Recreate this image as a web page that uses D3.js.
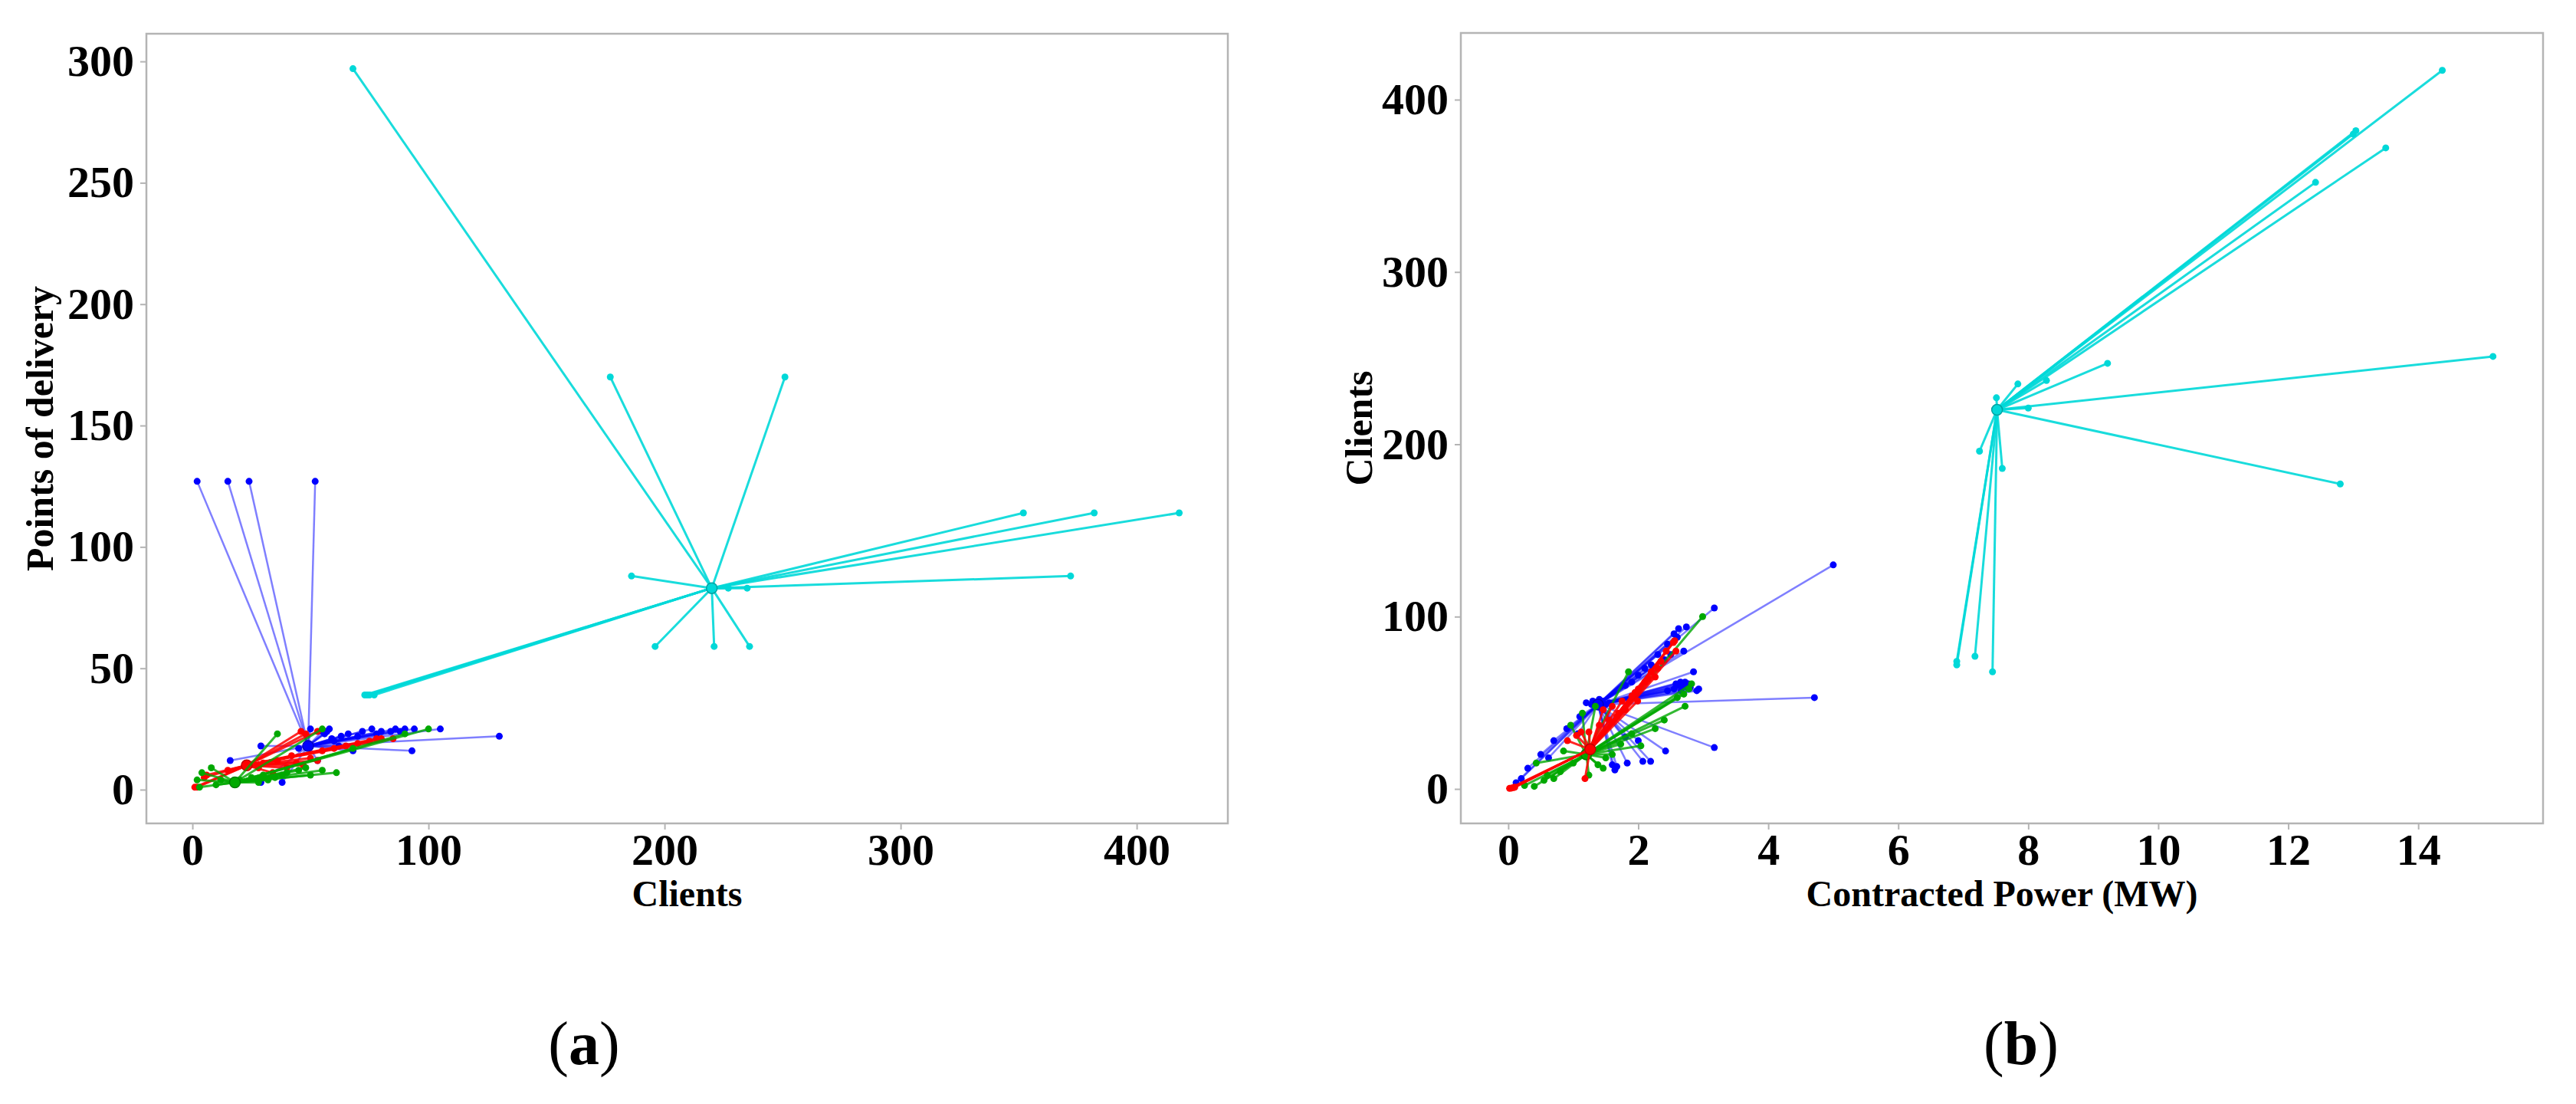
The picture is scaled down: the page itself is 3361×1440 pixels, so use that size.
<!DOCTYPE html>
<html>
<head>
<meta charset="utf-8">
<script src="https://cdn.jsdelivr.net/npm/d3@7"></script>
<style>
  body { margin: 0; background: #fff; }
  text { font-family: "Liberation Serif", "Times New Roman", serif; fill: #000; }
</style>
</head>
<body>
<div id="chart"></div>
<script>
// ---- tick labels ----
const clientsTicksA = [0, 100, 200, 300, 400];
const podTicksA = [0, 50, 100, 150, 200, 250, 300];
const powerTicksB = [0, 2, 4, 6, 8, 10, 12, 14];
const clientsTicksB = [0, 100, 200, 300, 400];

// ---- panel (a): [clients, points of delivery] ----
const centerA = { cyan: [220, 83], blue: [49, 18], red: [23, 10], green: [18, 3] };

const cyanA = [[68, 297], [177, 170], [251, 170], [186, 88], [372, 88], [352, 114], [382, 114],
  [418, 114], [196, 59], [221, 59], [236, 59], [73, 39], [74, 39], [75, 39], [77, 39], [227, 83], [235, 83]];

const blueA = [[2, 127], [15, 127], [24, 127], [52, 127], [29, 18], [16, 12], [29, 3], [38, 3],
  [93, 16], [130, 22], [105, 25], [94, 25], [90, 25], [86, 25], [76, 25], [58, 25], [56, 23],
  [63, 22], [53, 12], [60, 20], [70, 22], [80, 24], [45, 17], [50, 25], [55, 24], [66, 23],
  [57, 24], [59, 21], [72, 24], [84, 24], [88, 24], [78, 23], [62, 18], [68, 16]];

const redA = [[1, 1], [5, 5], [6, 6], [46, 24], [53, 24], [80, 21], [85, 21], [70, 19], [75, 20],
  [53, 12], [47, 10], [34, 7], [40, 9], [30, 11], [15, 8], [60, 17], [65, 18], [28, 9], [36, 12],
  [42, 14], [50, 13], [2, 1], [48, 23], [78, 21], [55, 16], [44, 11]];

const greenA = [[100, 25], [36, 23], [55, 25], [61, 7], [55, 8], [48, 9], [8, 9], [4, 7], [2, 4],
  [3, 1], [68, 17], [40, 7], [30, 6], [25, 5], [12, 4], [10, 2], [28, 3], [35, 5], [45, 8], [20, 4],
  [50, 6], [32, 4], [38, 6], [90, 23]];

// ---- panel (b): [contracted power MW, clients] ----
const centerB = { cyan: [7.52, 220], blue: [1.38, 49], red: [1.26, 23], green: [1.2, 20] };

const cyanB = [[14.37, 417], [13.04, 382], [13.0, 380], [13.5, 372], [12.42, 352], [15.15, 251],
  [12.8, 177], [9.22, 247], [7.84, 235], [8.28, 237], [7.51, 227], [8.0, 221], [7.25, 196],
  [7.6, 186], [6.9, 74], [6.9, 72], [7.18, 77], [7.45, 68]];

const blueB = [[3.17, 105], [2.62, 93], [2.74, 94], [2.55, 90], [2.7, 80], [2.5, 78], [2.4, 75],
  [2.2, 72], [2.1, 70], [2.0, 66], [1.9, 62], [1.8, 60], [2.85, 68], [2.93, 58], [2.77, 61],
  [2.65, 62], [2.6, 60], [2.55, 58], [2.75, 59], [2.9, 57], [2.45, 57], [4.71, 53], [5.0, 130],
  [3.17, 24], [2.42, 22], [2.19, 16], [2.07, 16], [1.83, 15], [1.64, 11], [1.67, 13], [1.6, 14],
  [2.0, 28], [1.8, 30], [1.28, 49], [1.2, 50], [1.45, 51], [1.5, 49], [1.55, 50], [0.9, 35],
  [0.7, 28], [0.5, 20], [0.3, 12], [0.2, 6], [0.12, 3.6], [0.62, 18], [1.07, 32], [1.1, 42],
  [2.68, 60], [2.72, 62], [2.8, 59], [2.58, 61], [2.66, 57], [2.3, 78], [2.35, 74], [2.6, 88],
  [2.45, 84], [1.3, 51], [1.4, 52]];

const redB = [[2.54, 85], [2.43, 80], [2.56, 86], [2.58, 80], [2.26, 65], [2.3, 70], [2.2, 68],
  [2.1, 62], [2.0, 58], [1.99, 51], [1.9, 54], [1.8, 46], [1.75, 51], [1.67, 42], [1.6, 48],
  [1.55, 40], [1.46, 46], [0.91, 28], [1.05, 31], [1.24, 33], [1.18, 6], [1.12, 33], [0.02, 0.3],
  [0.05, 0.5], [0.1, 1], [0.08, 0.8], [1.4, 37], [1.7, 44], [2.35, 74], [2.15, 64], [1.95, 56]];

const greenB = [[2.99, 100], [1.85, 68], [2.82, 61], [2.72, 48], [2.7, 55], [2.6, 53], [2.78, 58],
  [2.26, 35], [2.04, 25], [1.34, 48], [1.14, 44], [0.96, 37], [0.43, 15], [0.4, 1.5], [0.25, 2],
  [1.46, 12], [1.38, 14], [1.24, 8], [0.85, 22], [0.7, 6], [0.8, 10], [1.9, 32], [1.73, 26],
  [1.6, 20], [1.5, 18], [0.55, 5], [0.6, 8], [1.0, 15], [2.4, 40]];

const colors = { blue: '#0000ff', green: '#00a800', red: '#ff0000', cyan: '#00d8d8' };
const lineStyle = {
  blue: { width: 2.5, opacity: 0.5 },
  green: { width: 3, opacity: 0.8 },
  red: { width: 3, opacity: 0.85 },
  cyan: { width: 3, opacity: 0.9 }
};

const svg = d3.select('#chart')
  .append('svg')
  .attr('width', 3361)
  .attr('height', 1440)
  .style('background', '#fff');

function drawPanel(cfg) {
  const x = d3.scaleLinear().domain(cfg.xDomain).range([cfg.left, cfg.right]);
  const y = d3.scaleLinear().domain(cfg.yDomain).range([cfg.bottom, cfg.top]);

  const g = svg.append('g');

  // star lines: centroid -> each member
  cfg.clusters.forEach(c => {
    const cg = g.append('g');
    const st = lineStyle[c.name];
    cg.selectAll('line')
      .data(c.points)
      .enter()
      .append('line')
      .attr('x1', x(c.center[0]))
      .attr('y1', y(c.center[1]))
      .attr('x2', d => x(d[0]))
      .attr('y2', d => y(d[1]))
      .attr('stroke', colors[c.name])
      .attr('stroke-width', st.width)
      .attr('stroke-opacity', st.opacity);
    cg.selectAll('circle.pt')
      .data(c.points)
      .enter()
      .append('circle')
      .attr('class', 'pt')
      .attr('cx', d => x(d[0]))
      .attr('cy', d => y(d[1]))
      .attr('r', 4.5)
      .attr('fill', colors[c.name]);
    cg.append('circle')
      .attr('cx', x(c.center[0]))
      .attr('cy', y(c.center[1]))
      .attr('r', 7)
      .attr('fill', colors[c.name])
      .attr('stroke', d3.color(colors[c.name]).darker(0.8))
      .attr('stroke-width', 1.5);
  });

  // frame
  g.append('rect')
    .attr('x', cfg.left)
    .attr('y', cfg.top)
    .attr('width', cfg.right - cfg.left)
    .attr('height', cfg.bottom - cfg.top)
    .attr('fill', 'none')
    .attr('stroke', '#b4b4b4')
    .attr('stroke-width', 2.5);

  const xAxis = g.append('g')
    .attr('transform', `translate(0,${cfg.bottom})`)
    .call(d3.axisBottom(x).tickValues(cfg.xTicks).tickSize(8).tickPadding(5));
  const yAxis = g.append('g')
    .attr('transform', `translate(${cfg.left},0)`)
    .call(d3.axisLeft(y).tickValues(cfg.yTicks).tickSize(8).tickPadding(8));

  [xAxis, yAxis].forEach(ax => {
    ax.select('.domain').remove();
    ax.selectAll('.tick line').attr('stroke', '#b4b4b4').attr('stroke-width', 2);
    ax.selectAll('.tick text')
      .style('font-family', '"Liberation Serif", "Times New Roman", serif')
      .style('font-weight', 'bold')
      .style('font-size', '58px')
      .attr('fill', '#000');
  });

  g.append('text')
    .attr('x', (cfg.left + cfg.right) / 2)
    .attr('y', 1182)
    .attr('text-anchor', 'middle')
    .style('font-weight', 'bold')
    .style('font-size', '48px')
    .text(cfg.xLabel);

  g.append('text')
    .attr('transform', `translate(${cfg.yLabelX},${(cfg.top + cfg.bottom) / 2}) rotate(-90)`)
    .attr('text-anchor', 'middle')
    .style('font-weight', 'bold')
    .style('font-size', '50px')
    .text(cfg.yLabel);

  const sub = g.append('text')
    .attr('x', cfg.subX)
    .attr('y', 1388)
    .attr('text-anchor', 'middle')
    .style('font-size', '80px');
  sub.append('tspan').text('(');
  sub.append('tspan').style('font-weight', 'bold').text(cfg.subLetter);
  sub.append('tspan').text(')');
}

drawPanel({
  left: 191, right: 1602, top: 44, bottom: 1074,
  xDomain: [-19.5, 438.6], yDomain: [-13.9, 311.4],
  xTicks: clientsTicksA, yTicks: podTicksA,
  xLabel: 'Clients', yLabel: 'Points of delivery', yLabelX: 69,
  subX: 762, subLetter: 'a',
  clusters: [
    { name: 'blue', center: centerA.blue, points: blueA },
    { name: 'red', center: centerA.red, points: redA },
    { name: 'green', center: centerA.green, points: greenA },
    { name: 'cyan', center: centerA.cyan, points: cyanA }
  ]
});

drawPanel({
  left: 1906, right: 3318, top: 43, bottom: 1074,
  xDomain: [-0.73, 15.92], yDomain: [-20, 438.7],
  xTicks: powerTicksB, yTicks: clientsTicksB,
  xLabel: 'Contracted Power (MW)', yLabel: 'Clients', yLabelX: 1790,
  subX: 2637, subLetter: 'b',
  clusters: [
    { name: 'blue', center: centerB.blue, points: blueB },
    { name: 'green', center: centerB.green, points: greenB },
    { name: 'red', center: centerB.red, points: redB },
    { name: 'cyan', center: centerB.cyan, points: cyanB }
  ]
});
</script>
</body>
</html>
